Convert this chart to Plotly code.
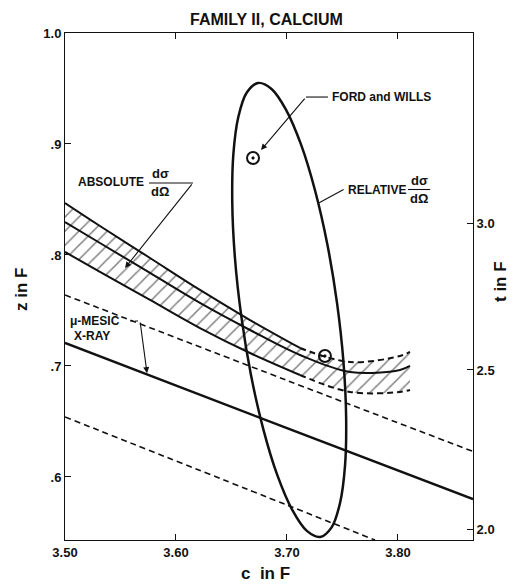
import plotly.graph_objects as go

# ---------------- data ----------------
x_ticks = [3.50, 3.60, 3.70, 3.80]
x_tick_labels = ["3.50", "3.60", "3.70", "3.80"]
z_ticks = [0.6, 0.7, 0.8, 0.9, 1.0]
z_tick_labels = [".6", ".7", ".8", ".9", "1.0"]
t_tick_pos = [0.8288, 0.6964, 0.5523]
t_tick_labels = ["3.0", "2.5", "2.0"]

c_band = [3.500, 3.5315, 3.5766, 3.6216, 3.6667, 3.7117, 3.7568, 3.8018, 3.8108]
z_band_upper = [0.8468, 0.8261, 0.7973, 0.7685, 0.7414, 0.7162, 0.7036, 0.7090, 0.7126]
z_band_mid = [0.8297, 0.8108, 0.7838, 0.7568, 0.7324, 0.7099, 0.6946, 0.6964, 0.7000]
z_band_lower = [0.8027, 0.7847, 0.7595, 0.7342, 0.7117, 0.6919, 0.6766, 0.6766, 0.6784]
band_split = 5  # index where band edges turn dashed

xray_c = [3.50, 3.70, 3.8676]
xray_mid = [0.7207, 0.6440, 0.5800]
xray_upper = [0.7640, 0.6870, 0.6230]
xray_lower_c = [3.50, 3.70, 3.7793]
xray_lower = [0.6541, 0.5747, 0.5432]

ellipse_c = [3.6740, 3.6861, 3.6993, 3.7127, 3.7253, 3.7364, 3.7451, 3.7509,
             3.7533, 3.7523, 3.7478, 3.7402, 3.7300, 3.7179, 3.7047, 3.6913,
             3.6787, 3.6676, 3.6589, 3.6531, 3.6507, 3.6517, 3.6562, 3.6638, 3.6740]
ellipse_z = [0.9550, 0.9496, 0.9306, 0.8994, 0.8581, 0.8094, 0.7566, 0.7035,
             0.6536, 0.6102, 0.5765, 0.5546, 0.5460, 0.5514, 0.5704, 0.6016,
             0.6429, 0.6916, 0.7444, 0.7975, 0.8474, 0.8908, 0.9245, 0.9464, 0.9550]

point_c = [3.6694, 3.7342]
point_z = [0.8874, 0.7090]

X_RANGE = [3.50, 3.8676]
Z_RANGE = [0.5432, 1.0]

FONT = "Liberation Sans"
BLACK = "#111111"

fig = go.Figure()

# hatched band
fig.add_trace(go.Scatter(x=c_band, y=z_band_lower, mode="lines", line=dict(width=0, shape="spline"),
                         showlegend=False, hoverinfo="skip"))
fig.add_trace(go.Scatter(x=c_band, y=z_band_upper, mode="lines", line=dict(width=0, shape="spline"),
                         fill="tonexty", fillcolor="rgba(0,0,0,0)",
                         fillpattern=dict(shape="/", fgcolor="#000000", bgcolor="rgba(0,0,0,0)",
                                          size=10, solidity=0.15),
                         showlegend=False, hoverinfo="skip"))

s = band_split
for zs in (z_band_upper, z_band_lower):
    fig.add_trace(go.Scatter(x=c_band[:s + 1], y=zs[:s + 1], mode="lines",
                             line=dict(color=BLACK, width=2, shape="spline"), showlegend=False))
    fig.add_trace(go.Scatter(x=c_band[s:], y=zs[s:], mode="lines",
                             line=dict(color=BLACK, width=2, dash="6px,4px", shape="spline"), showlegend=False))
fig.add_trace(go.Scatter(x=c_band, y=z_band_mid, mode="lines",
                         line=dict(color=BLACK, width=2, shape="spline"), showlegend=False))

# mu-mesic x-ray lines
fig.add_trace(go.Scatter(x=xray_c, y=xray_mid, mode="lines",
                         line=dict(color=BLACK, width=2.5, shape="spline"), showlegend=False))
fig.add_trace(go.Scatter(x=xray_c, y=xray_upper, mode="lines",
                         line=dict(color=BLACK, width=1.6, dash="6px,4px", shape="spline"), showlegend=False))
fig.add_trace(go.Scatter(x=xray_lower_c, y=xray_lower, mode="lines",
                         line=dict(color=BLACK, width=1.6, dash="6px,4px", shape="spline"), showlegend=False))

# relative ellipse
fig.add_trace(go.Scatter(x=ellipse_c, y=ellipse_z, mode="lines",
                         line=dict(color=BLACK, width=2.5, shape="spline", smoothing=1.0), showlegend=False))

# points
fig.add_trace(go.Scatter(x=point_c, y=point_z, mode="markers",
                         marker=dict(symbol="circle-open-dot", size=12, color=BLACK, line=dict(width=2)),
                         showlegend=False))

# dummy trace for right axis
fig.add_trace(go.Scatter(x=[X_RANGE[0]], y=[Z_RANGE[0]], yaxis="y2", mode="markers",
                         marker=dict(opacity=0), showlegend=False, hoverinfo="skip"))

# The page body has an 8px margin, so the figure is 8px smaller than the window.
tickfont = dict(family=FONT, size=13, color=BLACK, weight="bold")
fig.update_layout(
    width=510, height=576,
    margin=dict(l=57, r=45, t=25, b=44),
    paper_bgcolor="white", plot_bgcolor="white",
    showlegend=False,
    xaxis=dict(range=X_RANGE, tickvals=x_ticks, ticktext=x_tick_labels, ticks="inside", ticklen=6,
               tickcolor=BLACK, showline=True, linecolor=BLACK, linewidth=1, mirror="ticks",
               showgrid=False, zeroline=False, tickfont=tickfont),
    yaxis=dict(range=Z_RANGE, tickvals=z_ticks, ticktext=z_tick_labels, ticks="inside", ticklen=6,
               tickcolor=BLACK, showline=True, linecolor=BLACK, linewidth=1, mirror=False,
               showgrid=False, zeroline=False, tickfont=tickfont),
    yaxis2=dict(range=Z_RANGE, overlaying="y", side="right", tickvals=t_tick_pos, ticktext=t_tick_labels,
                ticks="inside", ticklen=6, tickcolor=BLACK, showline=True, linecolor=BLACK, linewidth=1,
                showgrid=False, zeroline=False, tickfont=tickfont),
)

# plot area in window pixels
PW, PH, L, T = 408, 507, 65, 33
ann = []
def txt(x, y, t, size=12, xanchor="center", ref="data", angle=0, yanchor="middle"):
    d = dict(text=t, showarrow=False, font=dict(family=FONT, size=size, color=BLACK, weight="bold"),
             xanchor=xanchor, yanchor=yanchor, textangle=angle)
    if ref == "data":
        d.update(x=x, y=y, xref="x", yref="y")
    else:  # window pixel position -> paper
        d.update(x=(x - L) / PW, y=(T + PH - y) / PH, xref="paper", yref="paper")
    ann.append(d)

def arrow(tip, tail):
    ann.append(dict(x=tip[0], y=tip[1], ax=tail[0], ay=tail[1], xref="x", yref="y", axref="x", ayref="y",
                    text="", showarrow=True, arrowhead=2, arrowsize=1.1, arrowwidth=1.1, arrowcolor=BLACK,
                    standoff=0))

def seg(x0, y0, x1, y1, dash=None):
    fig.add_shape(type="line", x0=x0, y0=y0, x1=x1, y1=y1, xref="x", yref="y",
                  line=dict(color=BLACK, width=1.1, dash=dash))

# title and axis titles
txt(266, 8.5, "FAMILY II, CALCIUM", size=16, ref="px", yanchor="top")
txt(265, 573, "c  in F", size=17, ref="px")
txt(22, 290, "z in F", size=17, ref="px", angle=-90)
txt(500, 282, "t in F", size=17, ref="px", angle=-90)

# FORD and WILLS
txt(3.7385, 0.9423, "FORD and WILLS", xanchor="left")
seg(3.7171, 0.9423, 3.7369, 0.9423)
arrow((3.6766, 0.8946), (3.7171, 0.9423))

# ABSOLUTE dσ/dΩ
txt(3.5730, 0.8658, "ABSOLUTE", xanchor="right")
txt(3.5860, 0.8735, "dσ", size=13)
txt(3.5860, 0.8570, "dΩ", size=13)
seg(3.5757, 0.8649, 3.6153, 0.8649)
arrow((3.5541, 0.7883), (3.6153, 0.8649))

# RELATIVE dσ/dΩ
txt(3.7530, 0.8590, "RELATIVE", xanchor="left")
txt(3.8190, 0.8668, "dσ", size=13)
txt(3.8190, 0.8508, "dΩ", size=13)
seg(3.8090, 0.8590, 3.8290, 0.8590)
seg(3.7510, 0.8590, 3.7290, 0.8470)

# mu-mesic X-ray label
txt(3.5030, 0.7405, "μ-MESIC", xanchor="left")
txt(3.5060, 0.7270, "X-RAY", xanchor="left")
seg(3.5586, 0.7405, 3.5676, 0.7405, dash="3px,2px")
arrow((3.5739, 0.6935), (3.5676, 0.7405))

fig.update_layout(annotations=ann)
fig.write_html("out.html")
